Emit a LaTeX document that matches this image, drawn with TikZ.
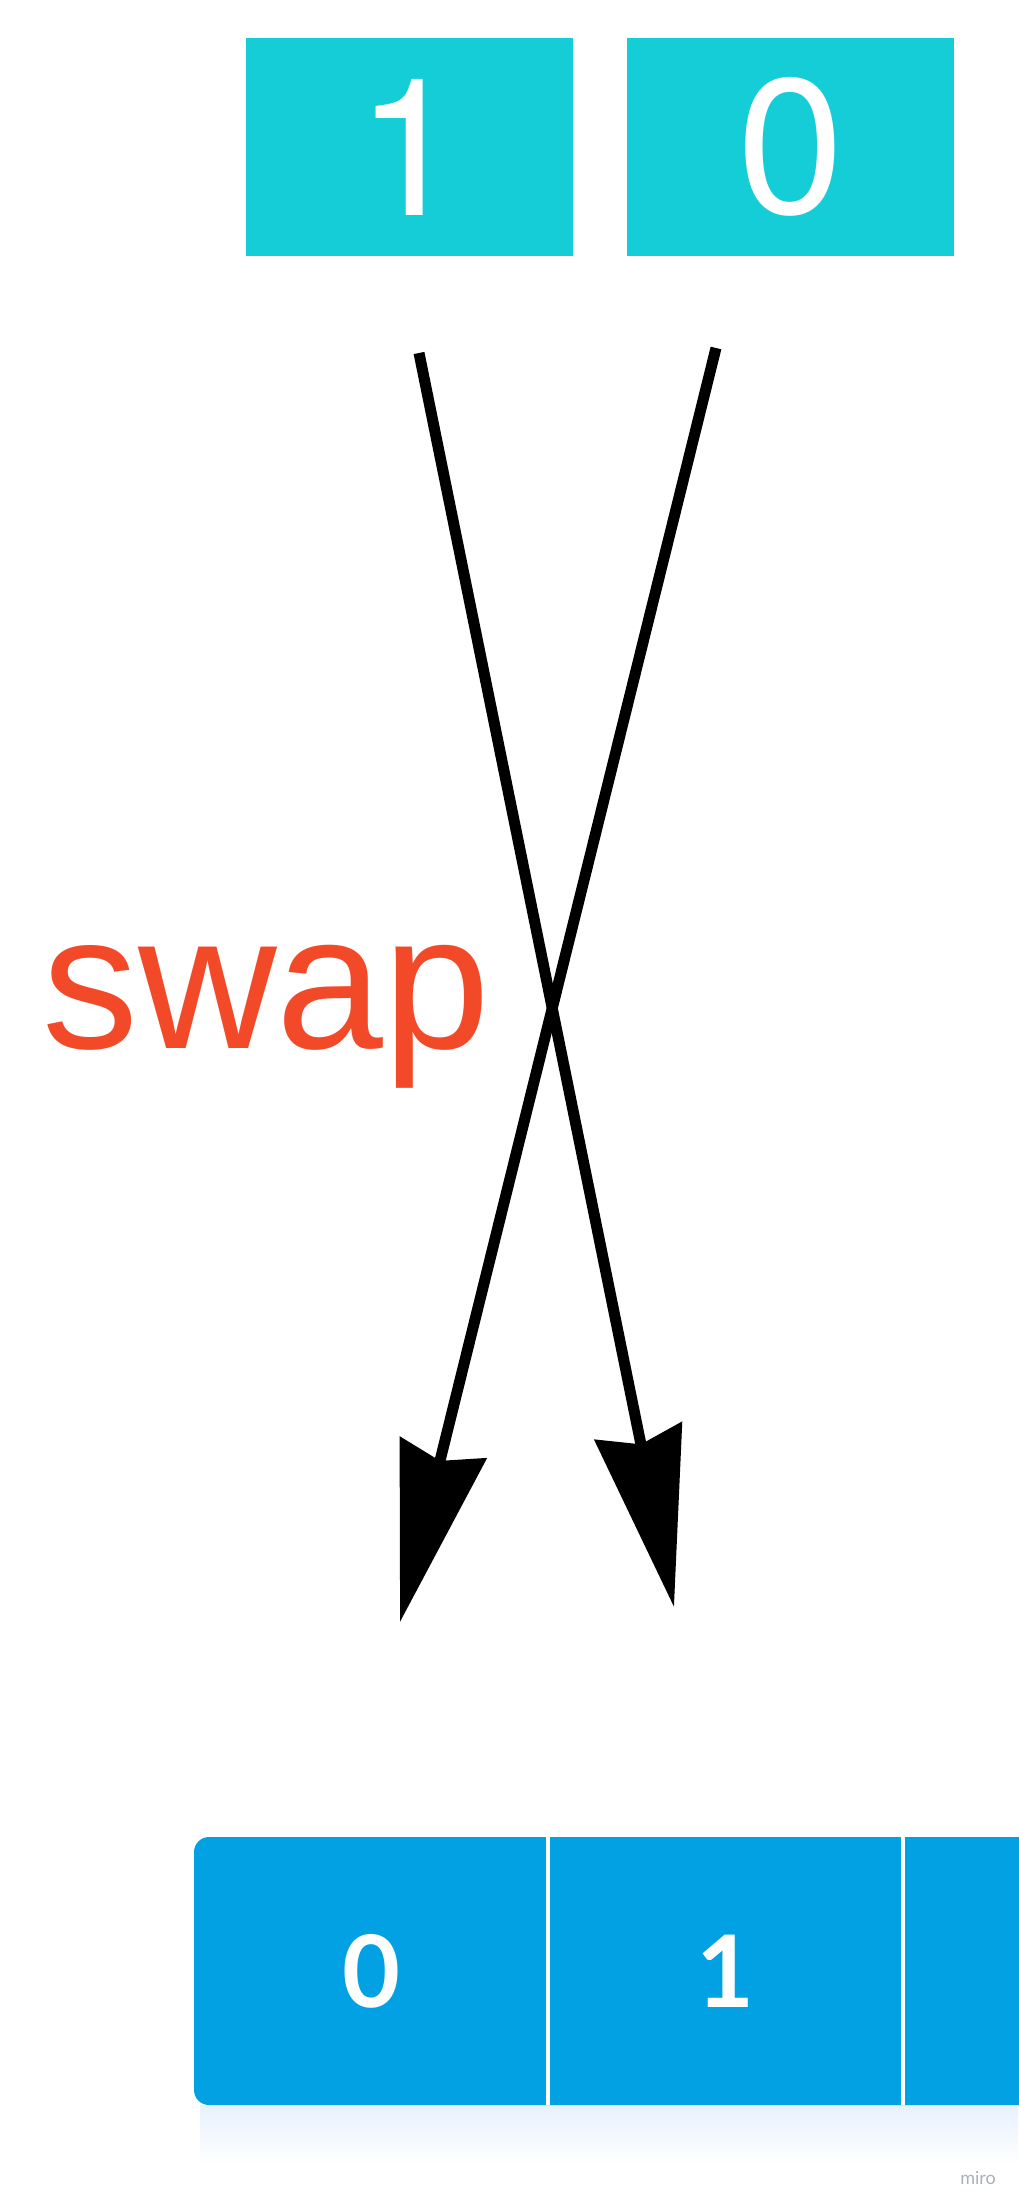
\documentclass[tikz,border=0pt]{standalone}
\usepackage{fontspec}
\setmainfont{Liberation Sans}
\newfontfamily\bitfont{TeX Gyre Heros}
\newfontfamily\cellfont{Lato}
\usetikzlibrary{arrows.meta, positioning}
\definecolor{bittop}{RGB}{21,205,214}
\definecolor{barblue}{RGB}{2,161,228}
\definecolor{swapred}{RGB}{242,74,41}
\definecolor{shadowblue}{RGB}{232,241,253}
\definecolor{wmgray}{RGB}{170,175,186}

\begin{document}
\begin{tikzpicture}[>=Stealth, x=1pt, y=-1pt]
            \tikzset{bitbox/.style={rectangle, fill=bittop, text=white, inner sep=0pt, minimum width=327pt, minimum height=218pt, font=\bitfont\fontsize{192}{192}\selectfont}}
            \tikzset{cellnode/.style={rectangle, inner sep=0pt, minimum width=354pt, minimum height=268pt, text=white, font=\cellfont\bfseries\fontsize{100}{100}\selectfont}}
            \tikzset{swaparrow/.style={-{Stealth[length=179pt, width=88pt, inset=13pt]}, line width=11pt}}
            \useasboundingbox (0,0) rectangle (1018,2208);
            % input bits
            \node[bitbox] (one) at (409.5,147) {1};
            \node[bitbox, right=54pt of one] (zero) {0};
            % crossing arrows
            \coordinate (oneout) at (419,353);
            \coordinate (zeroout) at (716,348);
            \coordinate (onein) at (674,1607);
            \coordinate (zeroin) at (400,1622);
            \draw[swaparrow] (oneout) -- (onein);
            \draw[swaparrow] (zeroout) -- (zeroin);
            \node[text=swapred, anchor=base west, inner sep=0pt, font=\fontsize{192}{192}\selectfont] (swap) at (42,1048) {swap};
            % array
            \shade[top color=shadowblue, bottom color=white] (200,2105) rectangle (1018,2165);
            \fill[barblue, rounded corners=15pt] (194,1837) rectangle (1060,2105);
            \node[cellnode, anchor=north west] (c0) at (194,1837) {0};
            \node[cellnode, right=0pt of c0] (c1) {1};
            \node[cellnode, right=0pt of c1] (c2) {};
            \draw[white, line width=4pt] (c0.north east) -- (c0.south east);
            \draw[white, line width=4pt] (c1.north east) -- (c1.south east);
            \node[text=wmgray, font=\cellfont\fontsize{18}{18}\selectfont] (mark) at (978,2178) {miro};
        \end{tikzpicture}
\end{document}
